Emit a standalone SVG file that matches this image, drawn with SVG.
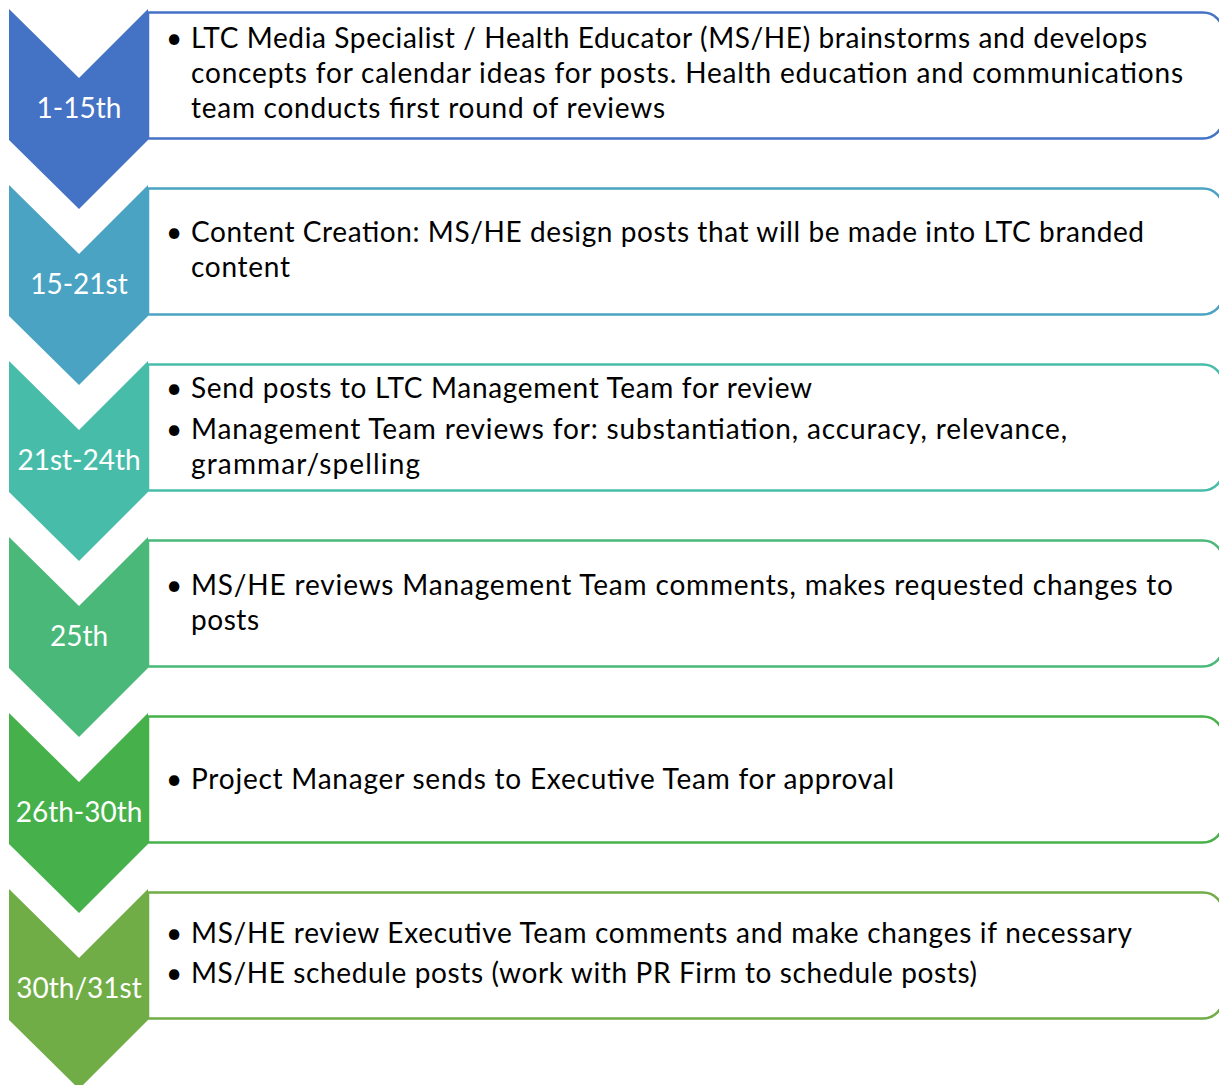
<svg xmlns="http://www.w3.org/2000/svg" width="1219" height="1085" viewBox="0 0 1219 1085">
<style>
.box{fill:#fff;stroke-width:2.5}
.t{font-family:Lato,"Liberation Sans",sans-serif;font-size:28px;fill:#000}
.lbl{font-family:Lato,"Liberation Sans",sans-serif;font-size:28px;fill:#fff;text-anchor:middle}
</style>
<defs>
<path id="chev" d="M0,0 L70,69 L139,0 L139,131 L70,200 L0,131 Z"/>
<path id="rbox" d="M148,0 H1203 A20,20 0 0 1 1223,20 V106 A20,20 0 0 1 1203,126 H148 Z"/>
</defs>
<rect width="1219" height="1085" fill="#fff"/>

<g id="step1">
<use href="#rbox" x="0" y="12.5" class="box" stroke="#4472C4"/>
<use href="#chev" x="9" y="9" fill="#4472C4"/>
<text class="lbl" x="79" y="118">1-15th</text>
<text class="t" x="166" y="48">•</text>
<text class="t" x="191" y="48" textLength="956" lengthAdjust="spacing">LTC Media Specialist / Health Educator (MS/HE) brainstorms and develops</text>
<text class="t" x="191" y="83" textLength="992" lengthAdjust="spacing">concepts for calendar ideas for posts. Health education and communications</text>
<text class="t" x="191" y="118" textLength="474" lengthAdjust="spacing">team conducts first round of reviews</text>
</g>

<g id="step2">
<use href="#rbox" x="0" y="188.5" class="box" stroke="#4AA3C2"/>
<use href="#chev" x="9" y="185" fill="#4AA3C2"/>
<text class="lbl" x="79" y="294">15-21st</text>
<text class="t" x="166" y="242">•</text>
<text class="t" x="191" y="242" textLength="953" lengthAdjust="spacing">Content Creation: MS/HE design posts that will be made into LTC branded</text>
<text class="t" x="191" y="277" textLength="99" lengthAdjust="spacing">content</text>
</g>

<g id="step3">
<use href="#rbox" x="0" y="364.5" class="box" stroke="#47BDA9"/>
<use href="#chev" x="9" y="361" fill="#47BDA9"/>
<text class="lbl" x="79" y="470">21st-24th</text>
<text class="t" x="166" y="398">•</text>
<text class="t" x="191" y="398" textLength="621" lengthAdjust="spacing">Send posts to LTC Management Team for review</text>
<text class="t" x="166" y="439">•</text>
<text class="t" x="191" y="439" textLength="876" lengthAdjust="spacing">Management Team reviews for: substantiation, accuracy, relevance,</text>
<text class="t" x="191" y="474" textLength="229" lengthAdjust="spacing">grammar/spelling</text>
</g>

<g id="step4">
<use href="#rbox" x="0" y="540.5" class="box" stroke="#49B878"/>
<use href="#chev" x="9" y="537" fill="#49B878"/>
<text class="lbl" x="79" y="646">25th</text>
<text class="t" x="166" y="595">•</text>
<text class="t" x="191" y="595" textLength="982" lengthAdjust="spacing">MS/HE reviews Management Team comments, makes requested changes to</text>
<text class="t" x="191" y="630" textLength="68" lengthAdjust="spacing">posts</text>
</g>

<g id="step5">
<use href="#rbox" x="0" y="716.5" class="box" stroke="#46B14A"/>
<use href="#chev" x="9" y="713" fill="#46B14A"/>
<text class="lbl" x="79" y="822">26th-30th</text>
<text class="t" x="166" y="789">•</text>
<text class="t" x="191" y="789" textLength="703" lengthAdjust="spacing">Project Manager sends to Executive Team for approval</text>
</g>

<g id="step6">
<use href="#rbox" x="0" y="892.5" class="box" stroke="#70AD47"/>
<use href="#chev" x="9" y="889" fill="#70AD47"/>
<text class="lbl" x="79" y="998">30th/31st</text>
<text class="t" x="166" y="943">•</text>
<text class="t" x="191" y="943" textLength="941" lengthAdjust="spacing">MS/HE review Executive Team comments and make changes if necessary</text>
<text class="t" x="166" y="983">•</text>
<text class="t" x="191" y="983" textLength="786" lengthAdjust="spacing">MS/HE schedule posts (work with PR Firm to schedule posts)</text>
</g>

<g id="connectors"/>
</svg>
